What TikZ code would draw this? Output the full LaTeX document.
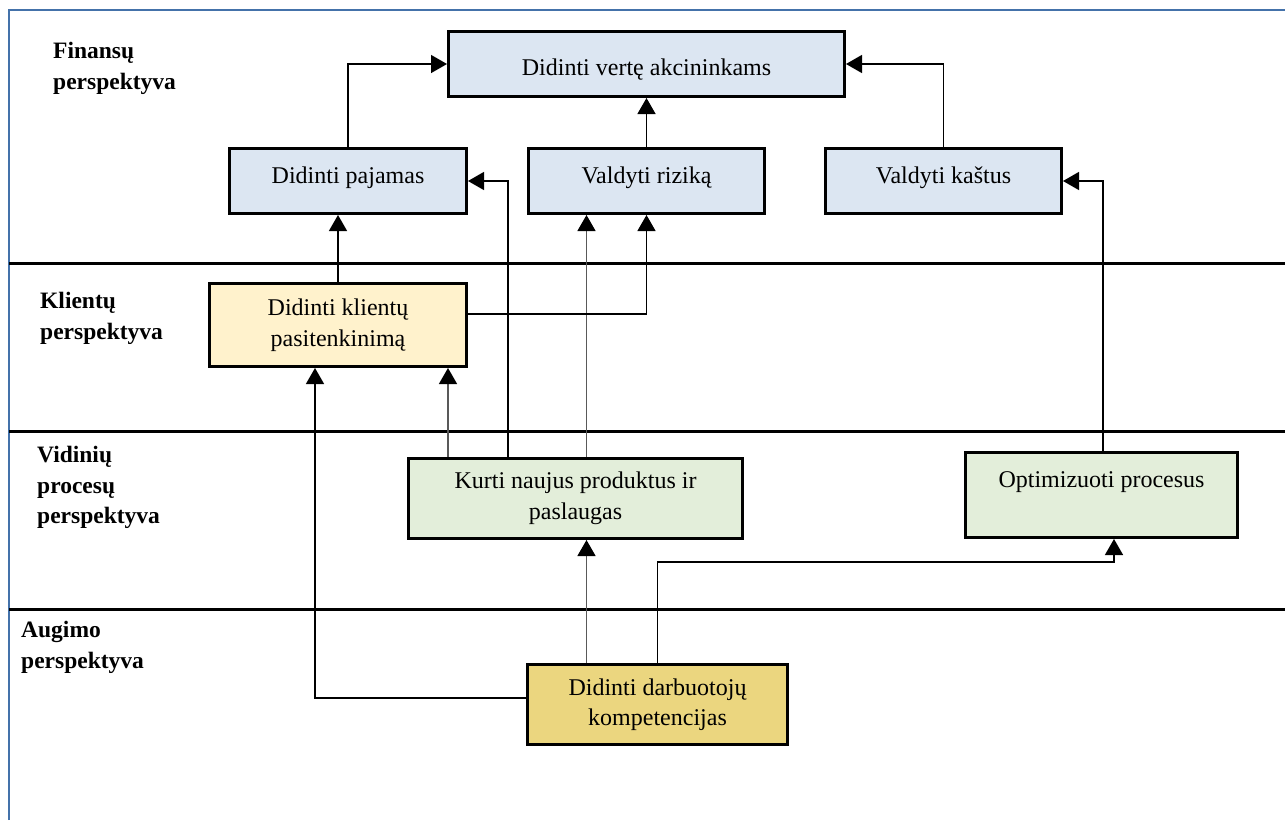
\documentclass[tikz,border=0pt]{standalone}
\usepackage{fontspec}
\setmainfont{Liberation Serif}
\usetikzlibrary{arrows.meta,calc}

\definecolor{finblue}{HTML}{DCE6F2}
\definecolor{custcream}{HTML}{FFF2CC}
\definecolor{procgreen}{HTML}{E3EEDA}
\definecolor{growgold}{HTML}{EBD67F}
\definecolor{frameblue}{RGB}{68,114,170}

\tikzset{
  box/.style={draw, line width=3pt, align=center, inner sep=0pt,
              font=\fontsize{24}{30.5}\selectfont},
  oneline/.style={text height=16pt, text depth=12pt},
  conn/.style={line width=1.4pt,
               -{Triangle[width=18pt,length=16pt,color=black]}},
  conngray/.style={conn, draw=black!65},
  lane/.style={line width=3pt},
  lanelabel/.style={anchor=north west, inner sep=0pt, align=left,
                    font=\fontsize{23.5}{30.5}\selectfont\bfseries},
}

\begin{document}
\begin{tikzpicture}[x=1pt, y=-1pt]
  \useasboundingbox (0,0) rectangle (1285,820);
  \fill[white] (0,0) rectangle (1285,820);

  % outer frame (open to the right and bottom)
  \draw[frameblue, line width=2pt] (9,820) -- (9,10) -- (1285,10);

  % perspective separators
  \draw[lane] (9,263) -- (1285,263);
  \draw[lane] (9,431) -- (1285,431);
  \draw[lane] (9,609) -- (1285,609);

  % perspective titles
  \node[lanelabel] (lfin) at (53,42)  {Finansų\\perspektyva};
  \node[lanelabel] (lcli) at (40,292) {Klientų\\perspektyva};
  \node[lanelabel] (lint) at (37,446) {Vidinių\\procesų\\perspektyva};
  \node[lanelabel] (lgro) at (21,621) {Augimo\\perspektyva};

  % financial perspective
  \node[box, fill=finblue, minimum width=396pt, minimum height=65pt,
        text height=22pt, text depth=0pt] (A) at (646.5,64) {Didinti vertę akcininkams};
  \node[box, oneline, fill=finblue, minimum width=237pt, minimum height=65pt]
        (B) at (348,181) {Didinti pajamas};
  \node[box, oneline, fill=finblue, minimum width=236pt, minimum height=65pt]
        (C) at (646.5,181) {Valdyti riziką};
  \node[box, oneline, fill=finblue, minimum width=236pt, minimum height=65pt]
        (D) at (943.5,181) {Valdyti kaštus};

  % customer perspective
  \node[box, fill=custcream, minimum width=257pt, minimum height=83pt]
        (E) at (338,325) {Didinti klientų\\pasitenkinimą};

  % internal process perspective
  \node[box, fill=procgreen, minimum width=334pt, minimum height=80pt]
        (F) at (575.5,498.5) {Kurti naujus produktus ir\\paslaugas};
  \node[box, fill=procgreen, minimum width=272pt, minimum height=85pt]
        (G) at (1101.5,495) {Optimizuoti procesus\\\mbox{}};

  % growth perspective
  \node[box, fill=growgold, minimum width=260pt, minimum height=80pt]
        (H) at (657.5,704.5) {Didinti darbuotojų\\kompetencijas};

  % connector anchor points
  \coordinate (f1) at ([xshift=-127.5pt]F.north);
  \coordinate (f2) at ([xshift=-67.5pt]F.north);
  \coordinate (f3) at ([xshift=11pt]F.north);
  \coordinate (h1) at ([xshift=-71pt]H.north);

  % links into the financial goals
  \draw[conn] (B.north) |- (A.west);
  \draw[conn] (D.north) |- (A.east);
  \draw[conn] (C.north) -- (A.south);
  \draw[conn] (E.north) -- (E.north |- B.south);
  \draw[conn] (f2) |- (B.east);
  \draw[conngray] (f3) -- (f3 |- C.south);
  \draw[conn] ([yshift=11pt]E.east) -| (C.south);
  \draw[conn] ([xshift=1.5pt]G.north) |- (D.east);

  % links into the customer goal
  \draw[conngray] (f1) -- (f1 |- E.south);
  \draw[conn] ([yshift=6.5pt]H.west) -| ([xshift=-23pt]E.south);

  % links into the process goals
  \draw[conngray] (h1) -- (h1 |- F.south);
  \draw[conn] (H.north) |- ($(G.south)+(12.5,23)$) -- ([xshift=12.5pt]G.south);
\end{tikzpicture}
\end{document}
